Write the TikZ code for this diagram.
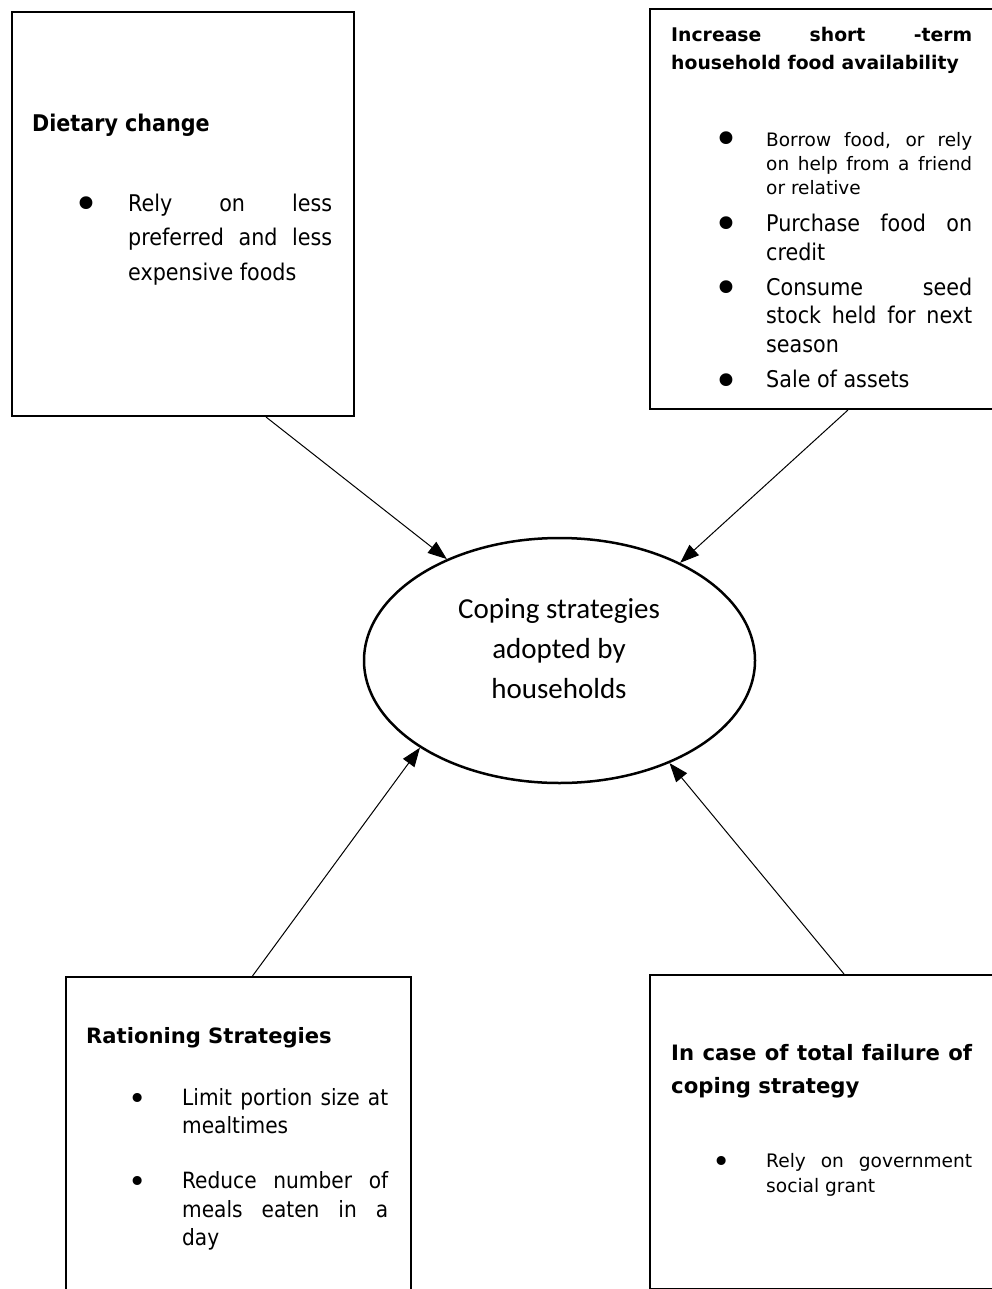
\documentclass[tikz,border=0pt]{standalone}
\usepackage{fontspec}
\setmainfont{DejaVu Sans}
\newfontfamily\condfont{DejaVu Sans Condensed}
\newfontfamily\calibrifont{Carlito}
\usetikzlibrary{arrows.meta,shapes.geometric}

% a line stretched to the full measure (justified)
\newcommand\fullline[2]{\makebox[#1][s]{#2}}

\tikzset{
  frame/.style={draw, line width=2pt, rectangle, inner sep=0pt, anchor=north west},
  core/.style={draw, ellipse, line width=2.5pt, inner sep=0pt,
               minimum width=391pt, minimum height=245pt},
  arr/.style={line width=1pt, -{Triangle[length=19pt,width=14pt]}},
  txt/.style={anchor=base west, inner sep=0pt},
  midtxt/.style={anchor=base, inner sep=0pt, font=\calibrifont\fontsize{29}{40}\selectfont},
  headc/.style={txt, font=\condfont\bfseries\fontsize{23}{28}\selectfont},
  headw/.style={txt, font=\bfseries\fontsize{18.8}{24}\selectfont},
  headr/.style={txt, font=\bfseries\fontsize{21.1}{26}\selectfont},
  bodyc/.style={txt, font=\condfont\fontsize{23}{28}\selectfont},
  bodyb/.style={txt, font=\condfont\fontsize{22.4}{28}\selectfont},
  bodyw/.style={txt, font=\fontsize{18.5}{24}\selectfont},
  bigdot/.style={anchor=center, inner sep=0pt, yshift=-5pt, font=\fontsize{44}{44}\selectfont},
  smalldot/.style={anchor=center, inner sep=0pt, yshift=-4pt, font=\fontsize{31}{31}\selectfont},
}

\begin{document}
\begin{tikzpicture}[x=1pt,y=-1pt]
\useasboundingbox (0,0) rectangle (992,1289);
\clip (0,0) rectangle (992,1289);

% the four boxes
\node[frame, minimum width=342pt, minimum height=404pt] (tl) at (11,11) {};
\node[frame, minimum width=350pt, minimum height=400pt] (tr) at (649,8) {};
\node[frame, minimum width=345pt, minimum height=340pt] (bl) at (65,976) {};
\node[frame, minimum width=350pt, minimum height=314pt] (br) at (649,974) {};

% central ellipse
\node[core] (hub) at (559.5,660.5) {};
\node[midtxt] (hub1) at (559,618) {Coping strategies};
\node[midtxt] (hub2) at (559,658) {adopted by};
\node[midtxt] (hub3) at (559,698) {households};

% top left box: dietary change
\node[headc] (tlh) at (32,132) {Dietary change};
\node[bigdot] (tlb1) at (86,203) {•};
\node[bodyc] (tl1) at (128,212) {\fullline{204pt}{Rely on less}};
\node[bodyc] (tl2) at (128,246) {\fullline{204pt}{preferred and less}};
\node[bodyc] (tl3) at (128,280) {expensive foods};

% top right box: short-term availability
\node[headw] (trh1) at (671,42) {\fullline{301pt}{Increase short -term}};
\node[headw] (trh2) at (671,70) {household food availability};
\node[bigdot] (trb1) at (726,138) {•};
\node[bodyw] (tr1) at (766,147) {\fullline{206pt}{Borrow food, or rely}};
\node[bodyw] (tr2) at (766,171) {\fullline{206pt}{on help from a friend}};
\node[bodyw] (tr3) at (766,195) {or relative};
\node[bigdot] (trb2) at (726,223) {•};
\node[bodyc] (tr4) at (766,232) {\fullline{206pt}{Purchase food on}};
\node[bodyc] (tr5) at (766,260) {credit};
\node[bigdot] (trb3) at (726,287) {•};
\node[bodyc] (tr6) at (766,295) {\fullline{206pt}{Consume seed}};
\node[bodyc] (tr7) at (766,323) {\fullline{206pt}{stock held for next}};
\node[bodyc] (tr8) at (766,352) {season};
\node[bigdot] (trb4) at (726,380) {•};
\node[bodyc] (tr9) at (766,387) {Sale of assets};

% bottom left box: rationing
\node[headr] (blh) at (86,1043) {Rationing Strategies};
\node[smalldot] (blb1) at (138,1097) {•};
\node[bodyb] (bl1) at (182,1105) {\fullline{206pt}{Limit portion size at}};
\node[bodyb] (bl2) at (182,1133) {mealtimes};
\node[smalldot] (blb2) at (138,1180) {•};
\node[bodyb] (bl3) at (182,1188) {\fullline{206pt}{Reduce number of}};
\node[bodyb] (bl4) at (182,1217) {\fullline{206pt}{meals eaten in a}};
\node[bodyb] (bl5) at (182,1245) {day};

% bottom right box: total failure
\node[headr, font=\bfseries\fontsize{21.2}{26}\selectfont] (brh1) at (671,1060) {\fullline{301pt}{In case of total failure of}};
\node[headr, font=\bfseries\fontsize{21.2}{26}\selectfont] (brh2) at (671,1093) {coping strategy};
\node[smalldot] (brb1) at (722,1160) {•};
\node[bodyw, font=\fontsize{18.6}{24}\selectfont] (br1) at (766,1167) {\fullline{206pt}{Rely on government}};
\node[bodyw, font=\fontsize{18.6}{24}\selectfont] (br2) at (766,1192) {social grant};

% connectors into the ellipse
\draw[arr] ([xshift=83pt]tl.south) -- (hub.138.8);
\draw[arr] ([xshift=23pt]tr.south) -- (hub.39);
\draw[arr] ([xshift=14pt]bl.north) -- (hub.212);
\draw[arr] ([xshift=19pt]br.north) -- (hub.317.2);
\end{tikzpicture}
\end{document}
